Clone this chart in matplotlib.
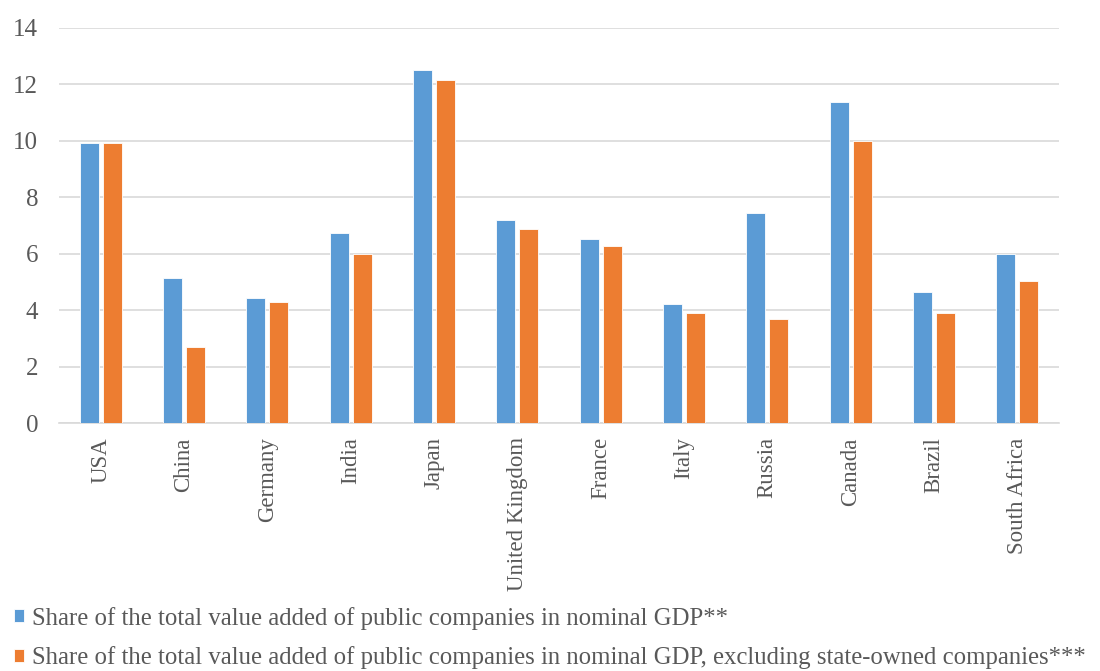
import numpy as np
import matplotlib
matplotlib.use("Agg")
import matplotlib.pyplot as plt

countries = ["USA", "China", "Germany", "India", "Japan", "United Kingdom",
             "France", "Italy", "Russia", "Canada", "Brazil", "South Africa"]
share_total = [9.93, 5.13, 4.44, 6.72, 12.5, 7.18, 6.52, 4.23, 7.43, 11.36, 4.64, 5.99]
share_ex_soe = [9.93, 2.71, 4.28, 5.99, 12.14, 6.89, 6.27, 3.9, 3.69, 10.0, 3.9, 5.04]
label_total = "Share of the total value added of public companies in nominal GDP**"
label_ex_soe = ("Share of the total value added of public companies in nominal GDP, "
                "excluding state-owned companies***")

plt.rcParams["font.family"] = ["Liberation Serif", "DejaVu Serif"]
TXT = "#595959"

fig = plt.figure(figsize=(11, 6.71), dpi=100)
ax = fig.add_axes([0.0536, 0.369, 0.909, 0.5897])

x = np.arange(len(countries))
w = 0.228
ax.bar(x - 0.138, share_total, w, color="#5B9BD5", edgecolor="white", lw=0.6,
       label=label_total, zorder=3)
ax.bar(x + 0.138, share_ex_soe, w, color="#ED7D31", edgecolor="white", lw=0.6,
       label=label_ex_soe, zorder=3)

ax.set_xlim(-0.5, len(countries) - 0.5)
ax.set_ylim(0, 14)
ax.set_yticks(range(0, 15, 2))
ax.set_xticks(x)
ax.set_xticklabels(countries, rotation=90, fontsize=16.5, color=TXT)
ax.tick_params(axis="y", length=0, pad=15, labelsize=18, labelcolor=TXT)
ax.tick_params(axis="x", length=0, pad=10)
ax.grid(axis="y", color="#d9d9d9", lw=1.2, zorder=0)
for s in ["top", "right", "left"]:
    ax.spines[s].set_visible(False)
ax.spines["bottom"].set_color("#d9d9d9")
ax.spines["bottom"].set_linewidth(1.2)

fig.legend(loc="lower left", bbox_to_anchor=(0.0035, -0.012), ncol=1, frameon=False,
           fontsize=17.8, handlelength=0.42, handleheight=0.42, handletextpad=0.3,
           labelspacing=0.67, borderaxespad=0.0, labelcolor=TXT)

fig.savefig("out.png", dpi=100)
